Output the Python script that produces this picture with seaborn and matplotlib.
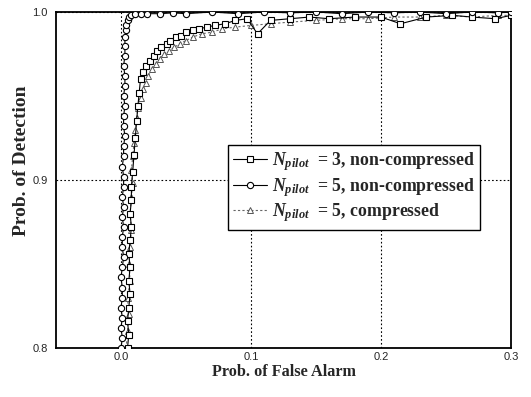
import numpy as np
import pandas as pd
import matplotlib
matplotlib.use("Agg")
import matplotlib.pyplot as plt
import seaborn as sns

# ---- data ----
pfa_n3 = [0.005, 0.006, 0.005, 0.006, 0.007, 0.006, 0.007, 0.006, 0.007, 0.008, 0.007, 0.008,
          0.008, 0.009, 0.010, 0.011, 0.012, 0.013, 0.014, 0.015, 0.017, 0.019, 0.022, 0.025,
          0.028, 0.031, 0.035, 0.038, 0.042, 0.046, 0.050, 0.055, 0.060, 0.066, 0.072, 0.080,
          0.088, 0.097, 0.105, 0.115, 0.130, 0.145, 0.160, 0.180, 0.200, 0.215, 0.235, 0.255,
          0.270, 0.288, 0.300]
pd_n3 = [0.800, 0.808, 0.816, 0.824, 0.832, 0.840, 0.848, 0.856, 0.864, 0.872, 0.880, 0.888,
         0.896, 0.905, 0.915, 0.925, 0.935, 0.944, 0.952, 0.960, 0.964, 0.968, 0.971, 0.974,
         0.977, 0.979, 0.981, 0.983, 0.985, 0.986, 0.988, 0.989, 0.990, 0.991, 0.992, 0.993,
         0.995, 0.996, 0.987, 0.995, 0.996, 0.997, 0.996, 0.997, 0.997, 0.993, 0.997, 0.998,
         0.997, 0.996, 0.998]

pfa_n5 = [0.000, 0.001, 0.000, 0.001, 0.000, 0.001, 0.001, 0.000, 0.001, 0.002, 0.001, 0.001,
          0.002, 0.001, 0.002, 0.001, 0.002, 0.002, 0.001, 0.002, 0.002, 0.003, 0.002, 0.002,
          0.003, 0.002, 0.003, 0.003, 0.002, 0.003, 0.003, 0.003, 0.004, 0.004, 0.005, 0.006,
          0.008, 0.011, 0.015, 0.020, 0.030, 0.040, 0.050, 0.070, 0.090, 0.110, 0.130, 0.150,
          0.170, 0.190, 0.210, 0.230, 0.250, 0.270, 0.290, 0.300]
pd_n5 = [0.800, 0.806, 0.812, 0.818, 0.824, 0.830, 0.836, 0.842, 0.848, 0.854, 0.860, 0.866,
         0.872, 0.878, 0.884, 0.890, 0.896, 0.902, 0.908, 0.914, 0.920, 0.926, 0.932, 0.938,
         0.944, 0.950, 0.956, 0.962, 0.968, 0.974, 0.980, 0.985, 0.989, 0.992, 0.995, 0.997,
         0.998, 0.999, 0.999, 0.999, 0.999, 0.9995, 0.999, 1.000, 0.999, 1.000, 0.9995, 1.000,
         0.999, 1.000, 0.9995, 1.000, 0.999, 1.000, 0.9995, 1.000]

pfa_n5c = [0.004, 0.005, 0.006, 0.005, 0.007, 0.006, 0.007, 0.008, 0.007, 0.008, 0.009, 0.008,
           0.009, 0.010, 0.011, 0.012, 0.013, 0.015, 0.017, 0.019, 0.021, 0.024, 0.027, 0.030,
           0.033, 0.037, 0.041, 0.045, 0.050, 0.055, 0.062, 0.070, 0.078, 0.088, 0.100, 0.115,
           0.130, 0.150, 0.170, 0.190, 0.210, 0.230, 0.250, 0.270, 0.290, 0.300]
pd_n5c = [0.800, 0.810, 0.820, 0.830, 0.840, 0.850, 0.860, 0.870, 0.880, 0.890, 0.898, 0.906,
          0.914, 0.922, 0.930, 0.937, 0.943, 0.949, 0.954, 0.958, 0.962, 0.966, 0.969, 0.972,
          0.975, 0.977, 0.979, 0.981, 0.983, 0.985, 0.987, 0.988, 0.990, 0.991, 0.992, 0.993,
          0.994, 0.995, 0.996, 0.996, 0.997, 0.997, 0.998, 0.997, 0.998, 0.998]

labels = [r"$N_{\mathit{pilot}}\ \ $= 3, non-compressed",
          r"$N_{\mathit{pilot}}\ \ $= 5, non-compressed",
          r"$N_{\mathit{pilot}}\ \ $= 5, compressed"]
xticks = [0.0, 0.1, 0.2, 0.3]
yticks = [0.8, 0.9, 1.0]

# ---- style ----
sns.set_style("white")
plt.rcParams["font.family"] = ["Liberation Sans", "DejaVu Sans"]
plt.rcParams["mathtext.fontset"] = "custom"
plt.rcParams["mathtext.rm"] = "Liberation Serif"
plt.rcParams["mathtext.it"] = "Liberation Serif:italic:bold"
plt.rcParams["mathtext.bf"] = "Liberation Serif:bold"

fig = plt.figure(figsize=(5.31, 3.97), dpi=100)
ax = fig.add_axes([56/531, (397-348)/397, 455/531, 336/397])

df3 = pd.DataFrame({"pfa": pfa_n3, "pd": pd_n3})
df5 = pd.DataFrame({"pfa": pfa_n5, "pd": pd_n5})
df5c = pd.DataFrame({"pfa": pfa_n5c, "pd": pd_n5c})

sns.lineplot(data=df5c, x="pfa", y="pd", sort=False, estimator=None, ax=ax,
             color="#666666", linestyle=(0, (2, 2)), linewidth=0.8, marker="^",
             markersize=4.5, markerfacecolor="white", markeredgecolor="#555555",
             markeredgewidth=0.7, label=labels[2], zorder=3)
sns.lineplot(data=df3, x="pfa", y="pd", sort=False, estimator=None, ax=ax,
             color="black", linewidth=0.8, marker="s", markersize=4.5,
             markerfacecolor="white", markeredgecolor="black", markeredgewidth=0.8,
             label=labels[0], zorder=4)
sns.lineplot(data=df5, x="pfa", y="pd", sort=False, estimator=None, ax=ax,
             color="black", linewidth=0.8, marker="o", markersize=4.5,
             markerfacecolor="white", markeredgecolor="black", markeredgewidth=0.8,
             label=labels[1], zorder=5)

ax.set_xlim(-0.05, 0.3)
ax.set_ylim(0.8, 1.0)
ax.set_xticks(xticks)
ax.set_xticklabels(["0.0", "0.1", "0.2", "0.3"])
ax.set_yticks(yticks)
ax.set_yticklabels(["0.8", "0.9", "1.0"])
ax.tick_params(axis="x", length=0, labelsize=8, pad=3)
ax.tick_params(axis="y", length=0, labelsize=8, pad=6)
ax.grid(True, linestyle=(0, (1.5, 2)), color="black", linewidth=0.8)
for s in ax.spines.values():
    s.set_color("black")
    s.set_linewidth(1.3)

ax.set_xlabel("Prob. of False Alarm", fontfamily="Liberation Serif",
              fontweight="bold", fontsize=11.7, labelpad=1)
ax.set_ylabel("Prob. of Detection", fontfamily="Liberation Serif",
              fontweight="bold", fontsize=14, labelpad=-1)
ax.yaxis.set_label_coords(-0.058, (348-161)/336)

h, l = ax.get_legend_handles_labels()
order = [1, 2, 0]
leg = ax.legend([h[i] for i in order], [l[i] for i in order],
                loc="upper left", bbox_to_anchor=(172/455, 203/336),
                borderaxespad=0,
                prop={"family": "Liberation Serif", "weight": "bold", "size": 12.8},
                frameon=True, fancybox=False, edgecolor="black", framealpha=1,
                handlelength=1.9, borderpad=0.3, labelspacing=0.15, handletextpad=0.25)
leg.get_frame().set_linewidth(1.0)

fig.savefig("out.png", dpi=100)
